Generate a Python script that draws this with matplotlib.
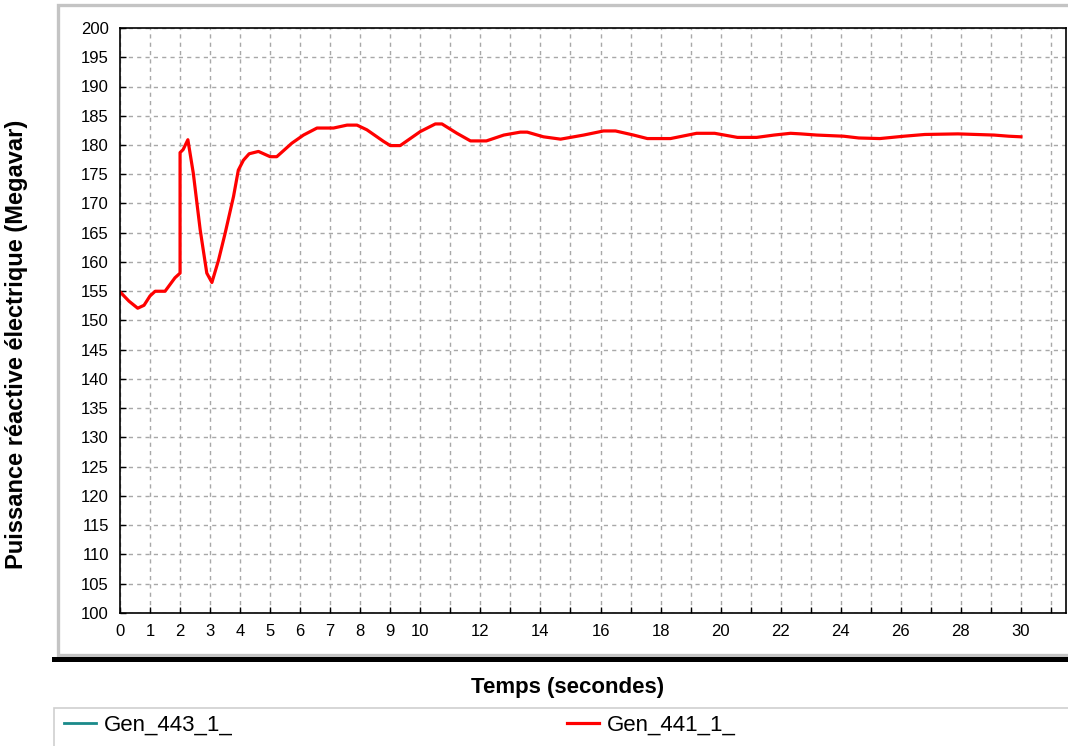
import numpy as np
import matplotlib.pyplot as plt
from matplotlib.patches import Rectangle
from matplotlib.lines import Line2D

plt.rcParams['font.family'] = ['Liberation Sans', 'DejaVu Sans']

# Gen_441_1_ reactive power vs time
temps = [0, 0.3, 0.59, 0.8, 1.0, 1.17, 1.5, 1.83, 2.0, 2.0, 2.1, 2.26, 2.44,
         2.67, 2.89, 3.06, 3.28, 3.5, 3.78, 3.94, 4.11, 4.3, 4.61, 5.0, 5.22,
         5.72, 6.11, 6.56, 7.11, 7.56, 7.89, 8.22, 8.78, 9.0, 9.33, 10.0,
         10.5, 10.72, 11.22, 11.67, 12.2, 12.78, 13.33, 13.56, 14.1, 14.67,
         15.44, 16.1, 16.5, 17.1, 17.56, 18.33, 19.2, 19.8, 20.56, 21.2,
         21.78, 22.33, 22.67, 23.2, 24.1, 24.6, 25.3, 26.1, 26.8, 27.9, 28.5,
         29.1, 29.6, 30.0]
gen_441 = [154.9, 153.3, 152.1, 152.6, 154.2, 155.0, 155.0, 157.3, 158.1,
           178.7, 179.2, 180.9, 175.2, 165.5, 158.1, 156.5, 160.3, 164.9,
           171.2, 175.7, 177.4, 178.5, 178.9, 178.0, 178.0, 180.3, 181.7,
           182.9, 182.9, 183.4, 183.4, 182.6, 180.6, 179.9, 179.9, 182.3,
           183.6, 183.6, 182.0, 180.7, 180.7, 181.7, 182.2, 182.2, 181.4,
           181.0, 181.7, 182.4, 182.4, 181.7, 181.1, 181.1, 182.0, 182.0,
           181.3, 181.3, 181.7, 182.0, 181.9, 181.7, 181.5, 181.2, 181.1,
           181.5, 181.8, 181.9, 181.8, 181.7, 181.5, 181.4]

x_ticks = list(range(0, 32))
x_labels = [str(v) if (v <= 10 or (v % 2 == 0 and v <= 30)) else '' for v in x_ticks]
y_ticks = list(range(100, 201, 5))

W, H = 1068, 746
fig = plt.figure(figsize=(W / 100, H / 100), dpi=100)


def fx(px):
    return px / W


def fy(py):
    return 1 - py / H


# outer panel / frames
fig.add_artist(Rectangle((fx(58), fy(655)), fx(1080) - fx(58), fy(5) - fy(655),
                         transform=fig.transFigure, facecolor='white',
                         edgecolor='#c4c4c4', lw=2.4, zorder=0))
fig.add_artist(Line2D([fx(54), fx(1068)], [fy(659), fy(659)],
                      transform=fig.transFigure, color='black', lw=3.6))
fig.add_artist(Rectangle((fx(54), fy(760)), fx(1080) - fx(54), fy(708) - fy(760),
                         transform=fig.transFigure, facecolor='white',
                         edgecolor='#cfcfcf', lw=1.2, zorder=0))

ax = fig.add_axes([fx(120), fy(613), fx(1066) - fx(120), fy(28) - fy(613)])
line441, = ax.plot(temps, gen_441, color='#ff0000', lw=2.3, label='Gen_441_1_')

ax.set_xlim(0, 31.5)
ax.set_ylim(100, 200)
ax.set_xticks(x_ticks)
ax.set_xticklabels(x_labels)
ax.set_yticks(y_ticks)
ax.tick_params(direction='in', length=4, width=1, labelsize=12, pad=8)
ax.grid(True, color='#a8a8a8', ls=(0, (3, 3)), lw=1)
ax.set_axisbelow(True)
for s in ax.spines.values():
    s.set_linewidth(1.2)

ax.set_ylabel('Puissance réactive électrique (Megavar)', fontsize=17, fontweight='bold')
ax.yaxis.set_label_coords(-0.097, 0.46)
ax.set_xlabel('Temps (secondes)', fontsize=16, fontweight='bold')
ax.xaxis.set_label_coords(0.4736, -0.11)

# legend entries
h443 = Line2D([], [], color='#1a8a8a', lw=2, label='Gen_443_1_')
leg_kw = dict(frameon=False, fontsize=16, handlelength=1.45, handletextpad=0.36,
              borderaxespad=0, borderpad=0, loc='center left')
fig.legend(handles=[h443], bbox_to_anchor=(fx(64), fy(725)), **leg_kw)
fig.legend(handles=[line441], bbox_to_anchor=(fx(567), fy(725)), **leg_kw)

fig.savefig('out.png', dpi=100)
